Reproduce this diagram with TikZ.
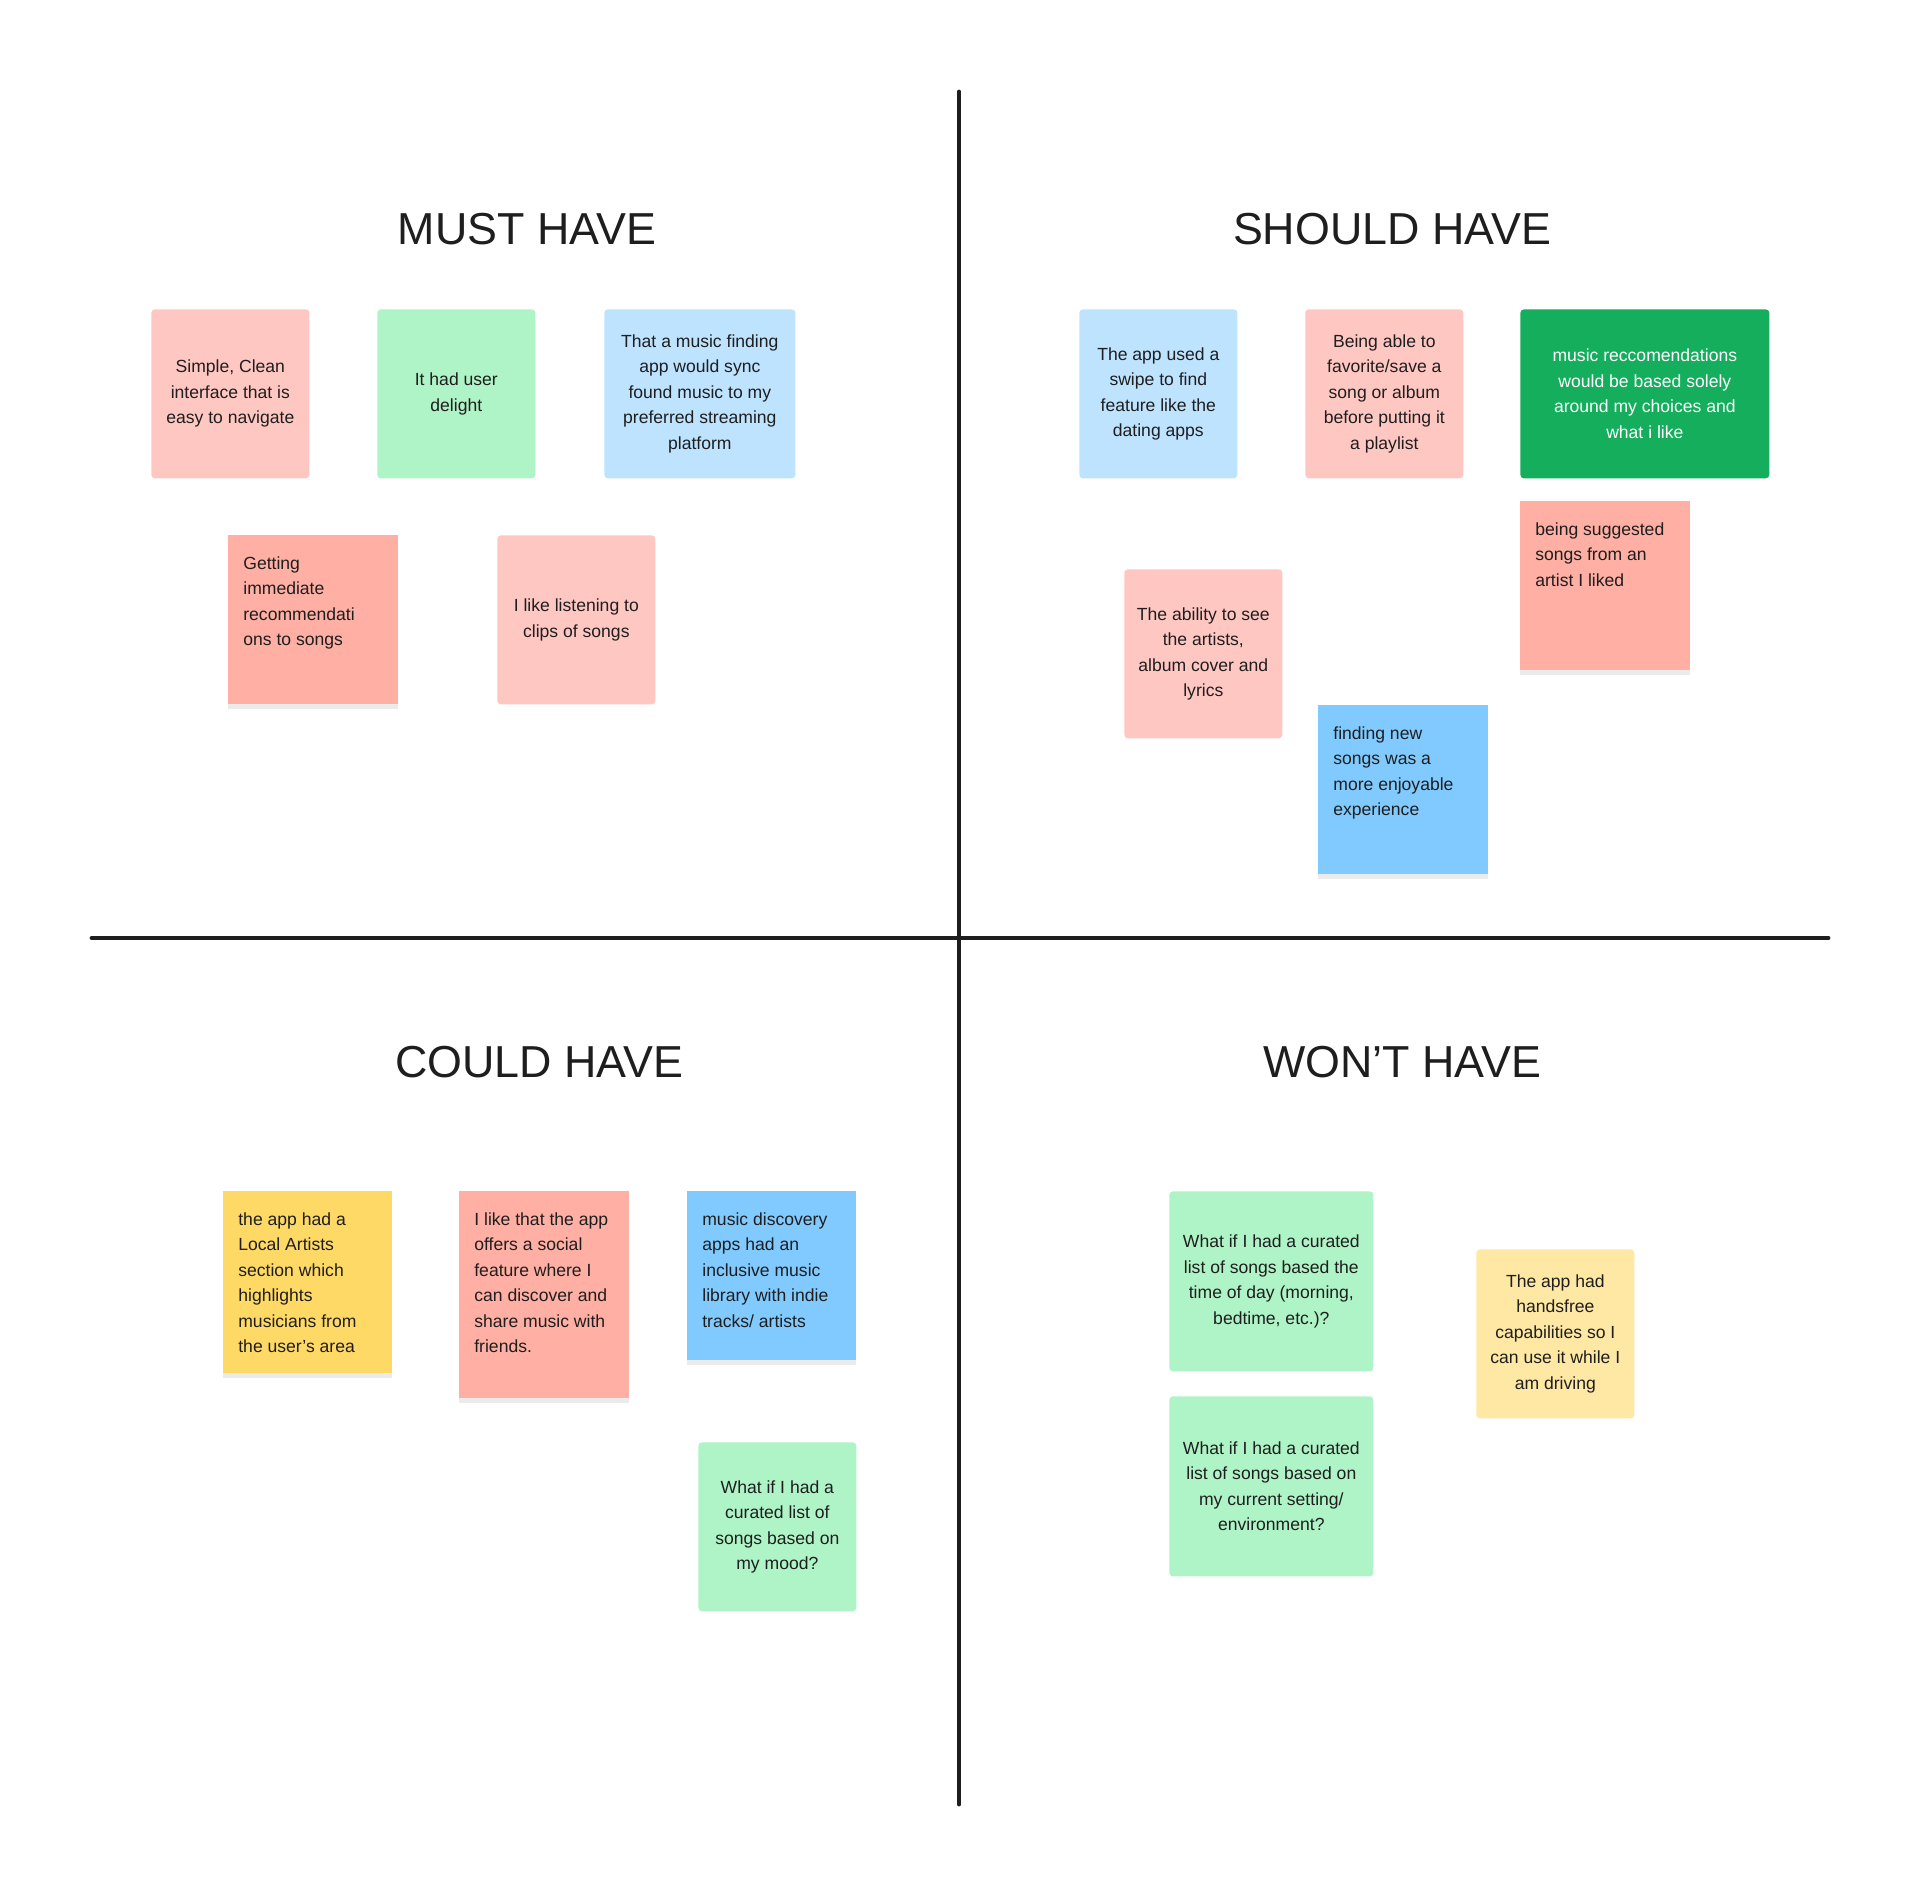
\documentclass[tikz,border=0pt]{standalone}
\usepackage{fontspec}
\setmainfont{Liberation Sans}
\usetikzlibrary{shadows}

\definecolor{inkgray}{HTML}{1E1E1E}
\definecolor{notepink}{HTML}{FFC7C2}
\definecolor{notegreen}{HTML}{AFF4C6}
\definecolor{noteblue}{HTML}{BDE3FF}
\definecolor{notesalmon}{HTML}{FFAFA3}
\definecolor{notedarkgreen}{HTML}{14AE5C}
\definecolor{noteskyblue}{HTML}{80CAFF}
\definecolor{noteyellow}{HTML}{FFD966}
\definecolor{notelightyellow}{HTML}{FFE8A3}

\begin{document}
\begin{tikzpicture}[x=0.02cm, y=-0.02cm,
    note/.style={anchor=north west, rounded corners=2pt, inner sep=0pt,
        minimum width=3.16cm, minimum height=3.38cm, align=center,
        text=inkgray, font=\fontsize{10}{14.5}\selectfont},
    sqnote/.style={anchor=north west, inner sep=0pt,
        minimum width=3.4cm, minimum height=3.38cm,
        drop shadow={shadow xshift=0pt, shadow yshift=-2.5pt,
            fill=black, opacity=0.08}},
    notetext/.style={anchor=north west, inner sep=0pt, align=left,
        text=inkgray, font=\fontsize{10}{14.5}\selectfont},
    heading/.style={text=inkgray, font=\fontsize{25.5}{30}\selectfont},
    axisline/.style={draw=inkgray, line width=2.8pt, line cap=round}]

    \useasboundingbox (0,0) rectangle (1920,1898);
    \fill[white] (0,0) rectangle (1920,1898);

    %axis
    \draw[axisline] (959,92) -- (959,1804);
    \draw[axisline] (92,938) -- (1828,938);

    %headings
    \node[heading] (must) at (527,229) {MUST HAVE};
    \node[heading] (should) at (1392,229) {SHOULD HAVE};
    \node[heading] (could) at (539,1062) {COULD HAVE};
    \node[heading] (wont) at (1402,1062) {WON’T HAVE};

    %must have
    \node[note, fill=notepink] (m1) at (151,309) {Simple, Clean\\interface that is\\easy to navigate};
    \node[note, fill=notegreen] (m2) at (377,309) {It had user\\delight};
    \node[note, fill=noteblue, minimum width=3.82cm] (m3) at (604,309) {That a music finding\\app would sync\\found music to my\\preferred streaming\\platform};
    \node[sqnote, fill=notesalmon] (m4) at (228,535) {};
    \node[notetext] (m4t) at (243,556) {Getting\\immediate\\recommendati\\ons to songs};
    \node[note, fill=notepink] (m5) at (497,535) {I like listening to\\clips of songs};

    %should have
    \node[note, fill=noteblue] (s1) at (1079,309) {The app used a\\swipe to find\\feature like the\\dating apps};
    \node[note, fill=notepink] (s2) at (1305,309) {Being able to\\favorite/save a\\song or album\\before putting it\\a playlist};
    \node[note, fill=notedarkgreen, minimum width=4.98cm, text=white] (s3) at (1520,309) {music reccomendations\\would be based solely\\around my choices and\\what i like};
    \node[sqnote, fill=notesalmon] (s4) at (1520,501) {};
    \node[notetext] (s4t) at (1535,522) {being suggested\\songs from an\\artist I liked};
    \node[note, fill=notepink] (s5) at (1124,569) {The ability to see\\the artists,\\album cover and\\lyrics};
    \node[sqnote, fill=noteskyblue] (s6) at (1318,705) {};
    \node[notetext] (s6t) at (1333,726) {finding new\\songs was a\\more enjoyable\\experience};

    %could have
    \node[sqnote, fill=noteyellow, minimum width=3.38cm, minimum height=3.64cm] (c1) at (223,1191) {};
    \node[notetext] (c1t) at (238,1212) {the app had a\\Local Artists\\section which\\highlights\\musicians from\\the user’s area};
    \node[sqnote, fill=notesalmon, minimum height=4.14cm] (c2) at (459,1191) {};
    \node[notetext] (c2t) at (474,1212) {I like that the app\\offers a social\\feature where I\\can discover and\\share music with\\friends.};
    \node[sqnote, fill=noteskyblue, minimum width=3.38cm] (c3) at (687,1191) {};
    \node[notetext] (c3t) at (702,1212) {music discovery\\apps had an\\inclusive music\\library with indie\\tracks/ artists};
    \node[note, fill=notegreen] (c4) at (698,1442) {What if I had a\\curated list of\\songs based on\\my mood?};

    %won't have
    \node[note, fill=notegreen, minimum width=4.08cm, minimum height=3.6cm] (w1) at (1169,1191) {What if I had a curated\\list of songs based the\\time of day (morning,\\bedtime, etc.)?};
    \node[note, fill=notegreen, minimum width=4.08cm, minimum height=3.6cm] (w2) at (1169,1396) {What if I had a curated\\list of songs based on\\my current setting/\\environment?};
    \node[note, fill=notelightyellow] (w3) at (1476,1249) {The app had\\handsfree\\capabilities so I\\can use it while I\\am driving};

\end{tikzpicture}
\end{document}
